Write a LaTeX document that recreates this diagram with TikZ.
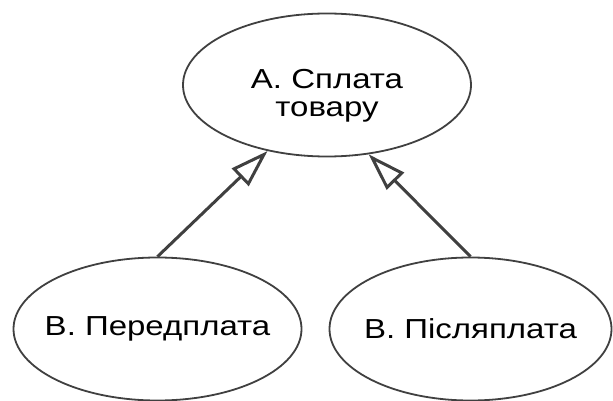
\documentclass[tikz,border=0pt]{standalone}
\usepackage{fontspec}
\setmainfont{Liberation Sans}[FakeStretch=1.2]
\usepackage{tikz}
\usetikzlibrary{arrows.meta, shapes.geometric}
\definecolor{linegray}{RGB}{64,64,64}

\begin{document}
\begin{tikzpicture}[
  x=1pt, y=-1pt,
  usecase/.style={
    ellipse, draw=linegray, line width=1.8pt, fill=white,
    minimum width=288pt, minimum height=143pt,
    inner xsep=-30pt, inner ysep=0pt,
    align=center, font=\fontsize{27.5}{28}\selectfont
  },
  gen/.style={
    draw=linegray, line width=3pt,
    -{Triangle[open, length=38pt, width=24pt]}
  }
]
\useasboundingbox (0,0) rectangle (613,401);

\node[usecase, text height=69pt] (pay) at (327,85) {А. Сплата\\товару};
\node[usecase] (pre) at (157.5,329) {В. Передплата};
\node[usecase, minimum width=282pt] (post) at (470.5,329) {В. Післяплата};

% generalisation arrows up to the parent use case
\draw[gen] (pre.north) -- (pay.228.7);
\draw[gen] (post.north) -- (pay.301.9);
\end{tikzpicture}
\end{document}
